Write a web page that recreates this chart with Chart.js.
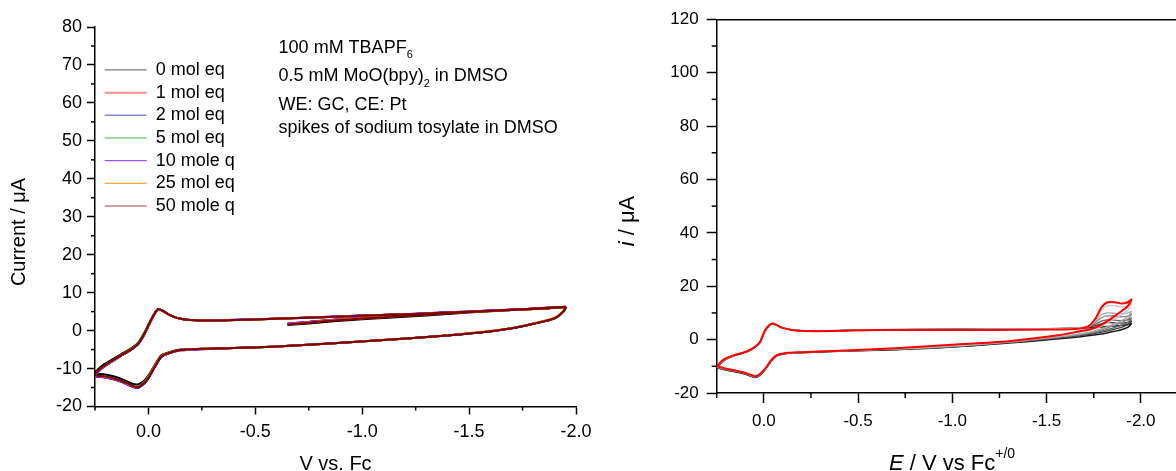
<!DOCTYPE html>
<html><head><meta charset="utf-8">
<script src="https://cdn.jsdelivr.net/npm/chart.js@4.4.1/dist/chart.umd.min.js"></script>
<style>
html,body{margin:0;padding:0;background:#fff;width:1176px;height:471px;overflow:hidden;position:relative;}
#c1{position:absolute;left:0;top:0;width:600px;height:471px;}
#c2{position:absolute;left:600px;top:0;width:650px;height:471px;}
</style></head><body>
<canvas id="c1" width="600" height="471"></canvas>
<canvas id="c2" width="650" height="471"></canvas>
<script>
const FONT = "'Liberation Sans', Arial, Helvetica, sans-serif";

// ---------- Left chart data (potential path: start -0.65 -> -1.95 -> +0.25 -> -1.95) ----------
const leftE = [
  -0.65, -0.75, -0.9, -1.1, -1.3, -1.5, -1.7, -1.85, -1.95,
  -1.94, -1.9, -1.8, -1.7, -1.55, -1.35, -1.1, -0.85, -0.6, -0.4, -0.25, -0.15, -0.09, -0.06, -0.03, 0.0, 0.02, 0.05, 0.08, 0.11, 0.16, 0.21, 0.25,
  0.22, 0.18, 0.13, 0.09, 0.05, 0.02, 0.0, -0.02, -0.045, -0.07, -0.1, -0.15, -0.22, -0.32, -0.5, -0.75, -1.0, -1.25, -1.5, -1.75, -1.95
];
const left0eq = [
  1.5, 1.9, 2.6, 3.3, 4.0, 4.8, 5.4, 5.8, 6.1,
  5.0, 3.3, 1.8, 0.6, -0.5, -1.5, -2.5, -3.4, -4.2, -4.6, -4.8, -5.0, -5.8, -6.5, -9.0, -11.8, -13.2, -14.2, -13.9, -13.1, -12.1, -11.5, -11.3,
  -9.4, -8.0, -6.3, -5.0, -3.3, -0.6, 1.6, 3.8, 5.7, 5.2, 4.1, 3.1, 2.7, 2.65, 2.95, 3.4, 3.9, 4.4, 5.0, 5.6, 6.2
];
const left1eq = [
  1.7, 2.2, 2.9, 3.6, 4.3, 4.9, 5.4, 5.8, 6.1,
  5.0, 3.3, 1.8, 0.6, -0.5, -1.5, -2.5, -3.4, -4.2, -4.6, -4.8, -5.1, -6.0, -6.9, -9.5, -12.4, -13.8, -14.9, -14.5, -13.7, -12.7, -12.1, -11.8,
  -9.9, -8.4, -6.6, -5.3, -3.6, -1.0, 1.3, 3.6, 5.6, 5.1, 4.1, 3.1, 2.7, 2.65, 2.95, 3.4, 3.9, 4.4, 5.0, 5.6, 6.3
];
const left2eq = [
  1.8, 2.3, 3.0, 3.7, 4.4, 5.0, 5.5, 5.9, 6.2,
  5.0, 3.3, 1.8, 0.6, -0.5, -1.5, -2.5, -3.4, -4.2, -4.6, -4.9, -5.2, -6.1, -7.0, -9.6, -12.6, -14.0, -15.1, -14.7, -13.9, -12.9, -12.3, -12.0,
  -10.1, -8.5, -6.7, -5.4, -3.7, -1.2, 1.1, 3.4, 5.5, 5.1, 4.1, 3.1, 2.7, 2.7, 3.0, 3.45, 3.95, 4.45, 5.05, 5.65, 6.3
];
const left5eq = [
  1.7, 2.2, 2.9, 3.6, 4.2, 4.9, 5.4, 5.8, 6.1,
  4.9, 3.2, 1.8, 0.6, -0.5, -1.5, -2.5, -3.4, -4.2, -4.6, -4.8, -5.1, -5.9, -6.7, -9.2, -12.1, -13.6, -14.8, -14.4, -13.6, -12.6, -12.0, -11.7,
  -9.8, -8.3, -6.5, -5.2, -3.4, -0.8, 1.5, 3.7, 5.6, 5.1, 4.1, 3.1, 2.7, 2.65, 2.95, 3.4, 3.9, 4.4, 5.0, 5.6, 6.2
];
const left10eq = [
  1.8, 2.3, 3.0, 3.7, 4.3, 5.0, 5.5, 5.9, 6.2,
  5.0, 3.3, 1.8, 0.6, -0.5, -1.5, -2.5, -3.4, -4.2, -4.6, -4.9, -5.2, -6.1, -7.0, -9.6, -12.5, -13.9, -15.0, -14.6, -13.8, -12.8, -12.2, -11.9,
  -10.0, -8.5, -6.7, -5.4, -3.7, -1.1, 1.2, 3.5, 5.5, 5.1, 4.1, 3.1, 2.7, 2.7, 3.0, 3.45, 3.95, 4.45, 5.05, 5.65, 6.3
];
const left25eq = [
  1.7, 2.2, 2.9, 3.6, 4.3, 4.9, 5.4, 5.8, 6.2,
  5.1, 3.4, 1.9, 0.7, -0.4, -1.5, -2.5, -3.4, -4.2, -4.6, -4.8, -5.1, -6.0, -6.8, -9.3, -12.2, -13.7, -14.9, -14.5, -13.7, -12.7, -12.1, -11.8,
  -9.9, -8.4, -6.6, -5.3, -3.6, -1.1, 1.2, 3.5, 5.5, 5.1, 4.1, 3.1, 2.7, 2.65, 2.95, 3.4, 3.9, 4.4, 5.0, 5.6, 6.3
];
const left50eq = [
  1.6, 2.1, 2.8, 3.5, 4.2, 4.9, 5.4, 5.8, 6.1,
  5.0, 3.3, 1.8, 0.6, -0.5, -1.5, -2.5, -3.4, -4.2, -4.6, -4.8, -5.1, -6.0, -6.9, -9.5, -12.4, -13.8, -14.9, -14.4, -13.6, -12.6, -12.0, -11.7,
  -9.8, -8.3, -6.6, -5.3, -3.6, -1.0, 1.3, 3.6, 5.6, 5.1, 4.1, 3.1, 2.7, 2.65, 2.95, 3.4, 3.9, 4.4, 5.0, 5.6, 6.3
];
const leftNames = ['0 mol eq', '1 mol eq', '2 mol eq', '5 mol eq', '10 mole q', '25 mol eq', '50 mole q'];
const leftCurrents = [left0eq, left1eq, left2eq, left5eq, left10eq, left25eq, left50eq];
const leftColors = ['#000000', '#ff0000', '#0000ff', '#008000', '#8000ff', '#ff8000', '#800000'];
const leftLegendColors = ['#7a7a7a', '#ff8a8a', '#8888cc', '#44b044', '#a050ee', '#ffa640', '#a04848'];
const leftLegendWidths = [1.2, 2, 1.5, 1.2, 1.2, 1.2, 1.2];

// ---------- Right chart data (loop: +0.25 -> -1.95 -> +0.25) ----------
const rightE = [
  0.25, 0.21, 0.16, 0.11, 0.07, 0.04, 0.02, 0.0, -0.02, -0.045, -0.07, -0.1, -0.15, -0.22, -0.35, -0.6, -0.9, -1.2, -1.5, -1.65, -1.72, -1.76, -1.79, -1.82, -1.86, -1.9, -1.93, -1.95,
  -1.93, -1.9, -1.86, -1.82, -1.78, -1.74, -1.68, -1.55, -1.3, -1.0, -0.7, -0.4, -0.2, -0.12, -0.07, -0.04, -0.01, 0.02, 0.045, 0.07, 0.1, 0.15, 0.2, 0.25
];
const rightGray0 = [
  -10.6, -7.8, -6.1, -5.0, -3.9, -2.5, -1.0, 2.3, 4.6, 5.9, 5.3, 4.4, 3.6, 3.3, 3.3, 3.7, 3.8, 3.9, 4.1, 4.2, 4.4, 4.5, 4.7, 4.9, 5.1, 5.4, 5.7, 6.0,
  4.6, 3.8, 3.1, 2.5, 2.0, 1.6, 1.1, 0.2, -1.3, -2.8, -3.8, -4.4, -4.9, -5.2, -6.1, -8.0, -11.0, -13.3, -14.2, -13.7, -12.9, -12.1, -11.4, -10.6
];
const rightGray1 = [
  -10.5, -7.7, -6.0, -5.0, -3.9, -2.5, -1.0, 2.3, 4.6, 5.9, 5.3, 4.4, 3.6, 3.3, 3.3, 3.7, 3.8, 3.9, 4.1, 4.3, 4.6, 5.3, 5.9, 6.3, 6.3, 6.2, 6.5, 7.0,
  5.6, 4.7, 3.9, 3.2, 2.6, 2.1, 1.5, 0.5, -1.1, -2.7, -3.7, -4.3, -4.8, -5.1, -6.0, -7.9, -10.9, -13.2, -14.1, -13.6, -12.8, -12.0, -11.3, -10.5
];
const rightGray2 = [
  -10.4, -7.7, -6.0, -4.9, -3.8, -2.4, -0.9, 2.3, 4.6, 5.9, 5.3, 4.4, 3.6, 3.3, 3.3, 3.7, 3.8, 3.9, 4.1, 4.3, 4.7, 5.8, 6.9, 7.4, 7.3, 7.1, 7.4, 8.0,
  6.4, 5.4, 4.5, 3.7, 3.0, 2.4, 1.8, 0.7, -1.0, -2.6, -3.6, -4.3, -4.8, -5.1, -6.0, -7.8, -10.8, -13.1, -14.0, -13.5, -12.7, -11.9, -11.2, -10.4
];
const rightGray3 = [
  -10.3, -7.6, -6.0, -4.9, -3.8, -2.4, -0.9, 2.4, 4.7, 5.9, 5.3, 4.4, 3.6, 3.3, 3.3, 3.7, 3.8, 3.9, 4.1, 4.3, 4.8, 6.5, 8.2, 8.9, 8.8, 8.5, 8.8, 9.5,
  7.6, 6.4, 5.3, 4.3, 3.4, 2.7, 2.0, 0.9, -0.9, -2.5, -3.5, -4.2, -4.7, -5.1, -5.9, -7.8, -10.8, -13.0, -13.9, -13.4, -12.6, -11.8, -11.1, -10.3
];
const rightGray4 = [
  -10.2, -7.5, -5.9, -4.8, -3.8, -2.4, -0.8, 2.4, 4.7, 6.0, 5.4, 4.4, 3.6, 3.3, 3.3, 3.7, 3.8, 3.9, 4.1, 4.3, 4.9, 7.0, 9.3, 10.0, 9.9, 9.6, 9.9, 10.6,
  8.6, 7.2, 5.9, 4.8, 3.8, 3.0, 2.2, 1.0, -0.8, -2.4, -3.5, -4.2, -4.7, -5.0, -5.9, -7.7, -10.7, -13.0, -13.9, -13.3, -12.5, -11.7, -11.0, -10.2
];
const rightGray5 = [
  -10.1, -7.4, -5.9, -4.8, -3.7, -2.3, -0.8, 2.5, 4.7, 6.0, 5.4, 4.4, 3.6, 3.2, 3.2, 3.6, 3.7, 3.8, 4.0, 4.2, 5.0, 7.6, 11.0, 12.6, 12.7, 12.3, 12.6, 13.5,
  11.0, 9.4, 7.7, 6.1, 4.7, 3.7, 2.8, 1.3, -0.7, -2.2, -3.4, -4.1, -4.7, -5.0, -5.9, -7.7, -10.7, -12.9, -13.8, -13.3, -12.5, -11.7, -10.9, -10.1
];
const rightRed = [
  -10.0, -7.3, -5.9, -4.9, -3.7, -2.3, -0.8, 2.6, 4.8, 6.0, 5.4, 4.4, 3.6, 3.2, 3.2, 3.6, 3.6, 3.6, 3.8, 4.0, 5.0, 8.0, 12.0, 13.9, 14.0, 13.5, 14.0, 15.0,
  12.5, 10.8, 8.8, 6.8, 5.2, 4.1, 3.2, 1.5, -0.6, -1.9, -3.2, -4.2, -4.7, -5.0, -5.8, -7.6, -10.6, -12.9, -13.7, -13.2, -12.4, -11.6, -10.9, -10.0
];
const rightCurrents = [rightRed, rightGray5, rightGray4, rightGray3, rightGray2, rightGray1, rightGray0];
const rightColors = ['#ff0000', '#c8c8c8', '#a8a8a8', '#888888', '#666666', '#404040', '#1a1a1a'];
const rightWidths = [2, 1.3, 1.3, 1.3, 1.3, 1.3, 1.5];

// ---------- Text ----------
const leftAnnotation = [
  [{t: '100 mM TBAPF'}, {t: '6', size: 11, dy: 5.5}],
  [{t: '0.5 mM MoO(bpy)'}, {t: '2', size: 11, dy: 5.5}, {t: ' in DMSO'}],
  [{t: 'WE: GC, CE: Pt'}],
  [{t: 'spikes of sodium tosylate in DMSO'}]
];
const leftAnnotationBaselines = [52.7, 81.1, 110.1, 132.6];

// ---------- helpers ----------
function isMajor(v, step) { const r = v / step; return Math.abs(r - Math.round(r)) < 1e-6; }
function fmtE(v) { return Math.abs(v) < 1e-9 ? '0.0' : v.toFixed(1); }
function toPoints(E, I) { return E.map((e, j) => ({x: e, y: I[j]})); }

function drawRich(ctx, item) {
  ctx.save();
  ctx.translate(item.x, item.y);
  if (item.rotate) ctx.rotate(item.rotate);
  ctx.textBaseline = item.baseline || 'alphabetic';
  ctx.textAlign = 'left';
  const fontOf = r => (r.italic ? 'italic ' : '') + (r.size || item.size) + 'px ' + FONT;
  let total = 0;
  item.runs.forEach(r => { ctx.font = fontOf(r); r._w = ctx.measureText(r.t).width; total += r._w; });
  let x = item.align === 'center' ? -total / 2 : 0;
  ctx.fillStyle = '#000';
  item.runs.forEach(r => { ctx.font = fontOf(r); ctx.fillText(r.t, x, r.dy || 0); x += r._w; });
  ctx.restore();
}
const richText = {
  id: 'richText',
  afterDraw(chart, args, opts) { (opts.items || []).forEach(it => drawRich(chart.ctx, it)); }
};
const minorTicks = {
  id: 'minorTicks',
  afterDraw(chart, args, opts) {
    const ctx = chart.ctx, ca = chart.chartArea;
    ctx.save();
    ctx.strokeStyle = '#000';
    ctx.lineWidth = opts.width || 1.5;
    (opts.list || []).forEach(cfg => {
      const s = chart.scales[cfg.id];
      s.ticks.forEach(t => {
        if (isMajor(t.value, cfg.major)) return;
        const p = s.getPixelForValue(t.value);
        ctx.beginPath();
        if (s.isHorizontal()) { ctx.moveTo(p, ca.bottom); ctx.lineTo(p, ca.bottom + cfg.len); }
        else { ctx.moveTo(ca.left, p); ctx.lineTo(ca.left - cfg.len, p); }
        ctx.stroke();
      });
    });
    ctx.restore();
  }
};
// place the in-plot legend box (legend box sits at top 0 when positioned in the chart area)
const legendPlace = {
  id: 'legendPlace',
  afterLayout(chart, args, opts) {
    const lg = chart.legend;
    if (!lg || !opts) return;
    lg.left = chart.chartArea.left + (opts.dx || 0);
    lg.top = opts.top;
  }
};

function axisX(opts) {
  return {
    type: 'linear', position: 'bottom', reverse: true, min: opts.min, max: 0.25,
    afterFit: s => { s.height = opts.height; },
    border: {display: true, color: '#000', width: 1.5},
    grid: {display: true, drawOnChartArea: false, drawTicks: true, tickLength: opts.tick, tickWidth: 1.5,
      tickColor: c => (c.tick && isMajor(c.tick.value, 0.5)) ? '#000' : 'rgba(0,0,0,0)'},
    ticks: {stepSize: 0.25, autoSkip: false, maxRotation: 0, minRotation: 0, color: '#000', padding: opts.pad,
      font: {family: FONT, size: opts.font},
      callback: v => isMajor(v, 0.5) ? fmtE(v) : ''}
  };
}
function axisY(opts) {
  return {
    type: 'linear', position: 'left', min: opts.min, max: opts.max,
    afterFit: s => { s.width = opts.width; },
    border: {display: true, color: '#000', width: 1.5},
    grid: {display: true, drawOnChartArea: false, drawTicks: true, tickLength: opts.tick, tickWidth: 1.5,
      tickColor: c => (c.tick && isMajor(c.tick.value, opts.major)) ? '#000' : 'rgba(0,0,0,0)'},
    ticks: {stepSize: opts.step, autoSkip: false, color: '#000', padding: opts.pad,
      font: {family: FONT, size: opts.font},
      callback: v => isMajor(v, opts.major) ? String(Math.round(v)) : ''}
  };
}

// ---------- Left chart ----------
const leftDatasets = [];
for (let i = leftNames.length - 1; i >= 0; i--) {
  leftDatasets.push({
    label: leftNames[i], data: toPoints(leftE, leftCurrents[i]),
    borderColor: leftColors[i], backgroundColor: leftColors[i],
    borderWidth: 2, pointRadius: 0, showLine: true, tension: 0.3, fill: false
  });
}
new Chart(document.getElementById('c1'), {
  type: 'scatter',
  data: {datasets: leftDatasets},
  options: {
    responsive: false, animation: false, events: [], devicePixelRatio: 1,
    layout: {padding: {top: 27, left: 0, right: 24, bottom: 0}},
    scales: {
      x: axisX({min: -2.0, height: 64.5, tick: 8, pad: 7, font: 18}),
      y: axisY({min: -20, max: 80, step: 5, major: 10, width: 95, tick: 8, pad: 5, font: 18})
    },
    plugins: {
      tooltip: {enabled: false},
      legend: {
        display: true, position: 'chartArea', align: 'start', reverse: true,
        labels: {
          usePointStyle: true, pointStyle: 'line', pointStyleWidth: 42, padding: 4.67,
          color: '#000', font: {family: FONT, size: 18},
          generateLabels: chart => {
            const items = Chart.defaults.plugins.legend.labels.generateLabels(chart);
            items.forEach(it => {
              const k = leftNames.indexOf(it.text);
              it.strokeStyle = leftLegendColors[k];
              it.fillStyle = leftLegendColors[k];
              it.lineWidth = leftLegendWidths[k];
            });
            return items;
          }
        }
      },
      legendPlace: {dx: 5, top: 56.3},
      minorTicks: {width: 1.5, list: [{id: 'x', major: 0.5, len: 4}, {id: 'y', major: 10, len: 4}]},
      richText: {items: [
        ...leftAnnotation.map((runs, k) => ({x: 278.6, y: leftAnnotationBaselines[k], size: 18, runs})),
        {x: 335.5, y: 470, size: 20, align: 'center', runs: [{t: 'V vs. Fc'}]},
        {x: 19, y: 232, size: 20, align: 'center', baseline: 'middle', rotate: -Math.PI / 2, runs: [{t: 'Current / \u03bcA'}]}
      ]}
    }
  },
  plugins: [legendPlace, minorTicks, richText]
});

// ---------- Right chart ----------
const rightDatasets = rightCurrents.map((I, i) => ({
  label: 'scan ' + i, data: toPoints(rightE, I),
  borderColor: rightColors[i], backgroundColor: rightColors[i],
  borderWidth: rightWidths[i], pointRadius: 0, showLine: true, tension: 0.3, fill: false
}));
new Chart(document.getElementById('c2'), {
  type: 'scatter',
  data: {datasets: rightDatasets},
  options: {
    responsive: false, animation: false, events: [], devicePixelRatio: 1,
    layout: {padding: {top: 19.3, left: 0, right: 62, bottom: 0}},
    scales: {
      x: axisX({min: -2.25, height: 78, tick: 10, pad: 8.5, font: 17}),
      x2: {type: 'linear', position: 'top', reverse: true, min: -2.25, max: 0.25,
        afterFit: s => { s.height = 0; },
        border: {display: true, color: '#000', width: 1.5},
        grid: {display: false}, ticks: {display: false}},
      y: axisY({min: -20, max: 120, step: 10, major: 20, width: 116.7, tick: 10, pad: 8, font: 17})
    },
    plugins: {
      tooltip: {enabled: false},
      legend: {display: false},
      minorTicks: {width: 1.5, list: [{id: 'x', major: 0.5, len: 5}, {id: 'y', major: 20, len: 5}]},
      richText: {items: [
        {x: 352, y: 470, size: 22, align: 'center', runs: [{t: 'E', italic: true}, {t: ' / V vs Fc'}, {t: '+/0', size: 14, dy: -12}]},
        {x: 28, y: 221, size: 22, align: 'center', baseline: 'middle', rotate: -Math.PI / 2, runs: [{t: 'i', italic: true}, {t: ' / \u03bcA'}]}
      ]}
    }
  },
  plugins: [minorTicks, richText]
});
</script>
</body></html>
